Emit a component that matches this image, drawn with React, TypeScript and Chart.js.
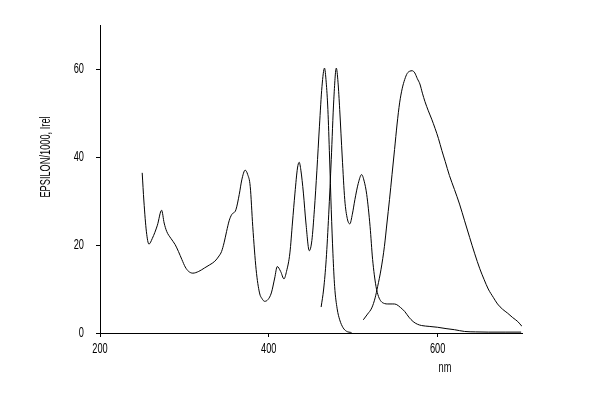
import React, { useEffect, useRef } from "react";
import { Chart, registerables } from "chart.js";

Chart.register(...registerables);

// Absorption spectrum
const absNm = [250, 252, 255, 258, 262, 268, 273, 276, 279, 284, 289, 293, 297, 301, 305, 310, 317, 324, 330, 336, 341, 344, 347, 350, 353, 356, 361, 365, 368, 372, 375, 378, 381, 385, 389, 392, 395, 399, 403, 407, 410, 414, 418, 421, 425, 428, 431, 434, 436, 438, 441, 444, 448, 451, 454, 457, 460, 463, 466, 468, 470, 472, 474, 476, 478, 481, 484, 488, 492, 498];
const absVal = [36.4, 30, 23, 20.2, 21.5, 24.5, 27.9, 25, 23.1, 21.5, 20.1, 18.5, 16.7, 15, 14, 13.6, 14, 14.8, 15.5, 16.3, 17.5, 18.5, 20.5, 23.1, 25.5, 26.9, 28, 31.5, 34.8, 37, 36, 33.3, 24.2, 14.4, 9.1, 7.8, 7.2, 7.6, 9.1, 12.5, 15.1, 14, 12.3, 14, 18.2, 25, 31.8, 37.5, 38.8, 37, 31.8, 25, 18.7, 21, 28, 37, 47, 56, 60.2, 57, 50.8, 40, 28, 18, 10.6, 5.5, 3, 1.2, 0.4, 0.1];

// First emission spectrum
const em1Nm = [462, 465, 468, 471, 474, 477, 480, 482, 484, 487, 490, 493, 496, 499, 502, 506, 510, 513, 516, 520, 523, 527, 530, 533, 537, 541, 547, 551, 556, 561, 566, 571, 576, 581, 590, 600, 610, 620, 632, 645, 660, 680, 699];
const em1Val = [5.9, 10, 16.7, 27, 39.4, 53, 60.2, 57, 50.8, 40, 30.3, 26, 24.8, 27, 30.3, 34, 36, 34.5, 31.5, 24.2, 16.7, 10.6, 8.3, 7.2, 6.7, 6.6, 6.6, 6.5, 5.8, 4.9, 3.6, 2.6, 2, 1.7, 1.5, 1.3, 1.0, 0.75, 0.35, 0.25, 0.2, 0.2, 0.2];

// Second (broad) emission spectrum
const em2Nm = [512, 517, 522, 526, 529, 533, 537, 540, 543, 546, 549, 552, 555, 558, 561, 564, 567, 570, 573, 576, 579, 582, 585, 589, 593, 597, 601, 605, 609, 614, 620, 626, 632, 638, 644, 650, 655, 660, 666, 671, 677, 683, 689, 695, 700];
const em2Val = [3, 4.3, 5.7, 8, 10.6, 14.5, 19.7, 25, 30.3, 36, 41.7, 47.5, 52.3, 55.5, 57.6, 59, 59.5, 59.6, 59.1, 57.8, 56.6, 54.5, 52.6, 50.5, 48.6, 46.5, 44.2, 41.5, 39, 35.8, 32.6, 29.3, 25.5, 21.7, 18, 14.6, 12.2, 10, 8.1, 6.6, 5.4, 4.5, 3.5, 2.6, 1.5];

const xTicks = [200, 400, 600];
const yTicks = [0, 20, 40, 60];
const xMin = 200;
const xMax = 700;
const yMin = 0;
const yMax = 70;
const yTitle = "EPSILON/1000, Irel";
const xTitle = "nm";

const FONT = "'Liberation Sans', Arial, sans-serif";
const NARROW = 0.66;

const toPts = (xs: number[], ys: number[]) => xs.map((x, i) => ({ x, y: ys[i] }));

function narrowText(ctx: CanvasRenderingContext2D, text: string, x: number, y: number, align: CanvasTextAlign, rot = 0) {
  ctx.save();
  ctx.translate(x, y);
  if (rot) ctx.rotate(rot);
  ctx.scale(NARROW, 1);
  ctx.textAlign = align;
  ctx.fillText(text, 0, 0);
  ctx.restore();
}

const textPlugin = {
  id: "narrowText",
  afterDraw(chart: any) {
    const { ctx, chartArea, scales } = chart;
    ctx.save();
    ctx.fillStyle = "#000";
    ctx.font = `14px ${FONT}`;
    ctx.textBaseline = "middle";
    yTicks.forEach((v) => {
      narrowText(ctx, String(v), chartArea.left - 16, scales.y.getPixelForValue(v), "right");
    });
    xTicks.forEach((v) => {
      narrowText(ctx, String(v), scales.x.getPixelForValue(v), chartArea.bottom + 16, "center");
    });
    narrowText(ctx, yTitle, chartArea.left - 54, chartArea.top + 132, "center", -Math.PI / 2);
    narrowText(ctx, xTitle, chartArea.left + 345, chartArea.bottom + 35, "center");
    ctx.restore();
  },
};

export default function App() {
  const ref = useRef<HTMLCanvasElement | null>(null);

  useEffect(() => {
    document.body.style.margin = "0";
    const canvas = ref.current;
    if (!canvas) return;
    const lineStyle = {
      borderColor: "#000",
      borderWidth: 1,
      pointRadius: 0,
      fill: false,
      cubicInterpolationMode: "monotone" as const,
    };
    const chart = new Chart(canvas, {
      type: "line",
      data: {
        datasets: [
          { label: "abs", data: toPts(absNm, absVal), ...lineStyle },
          { label: "em1", data: toPts(em1Nm, em1Val), ...lineStyle },
          { label: "em2", data: toPts(em2Nm, em2Val), ...lineStyle },
        ],
      },
      plugins: [textPlugin],
      options: {
        animation: false,
        responsive: false,
        events: [],
        layout: { padding: { left: 0, right: 82, top: 25, bottom: 0 } },
        plugins: { legend: { display: false }, tooltip: { enabled: false }, title: { display: false } },
        scales: {
          x: {
            type: "linear",
            min: xMin,
            max: xMax,
            afterBuildTicks: (s: any) => {
              s.ticks = xTicks.map((v) => ({ value: v }));
            },
            afterFit: (s: any) => {
              s.height = 73;
            },
            grid: { drawOnChartArea: false, drawTicks: true, tickLength: 4, color: "#000", lineWidth: 1 },
            border: { display: true, color: "#000", width: 1 },
            ticks: { display: false },
          },
          y: {
            type: "linear",
            min: yMin,
            max: yMax,
            afterBuildTicks: (s: any) => {
              s.ticks = yTicks.map((v) => ({ value: v }));
            },
            afterFit: (s: any) => {
              s.width = 100;
            },
            grid: { drawOnChartArea: false, drawTicks: true, tickLength: 4, color: "#000", lineWidth: 1 },
            border: { display: true, color: "#000", width: 1 },
            ticks: { display: false },
          },
        },
      },
    });
    return () => chart.destroy();
  }, []);

  return (
    <div style={{ position: "fixed", left: 0, top: 0, width: 604, height: 406, background: "#fff" }}>
      <canvas ref={ref} width={604} height={406} />
    </div>
  );
}
